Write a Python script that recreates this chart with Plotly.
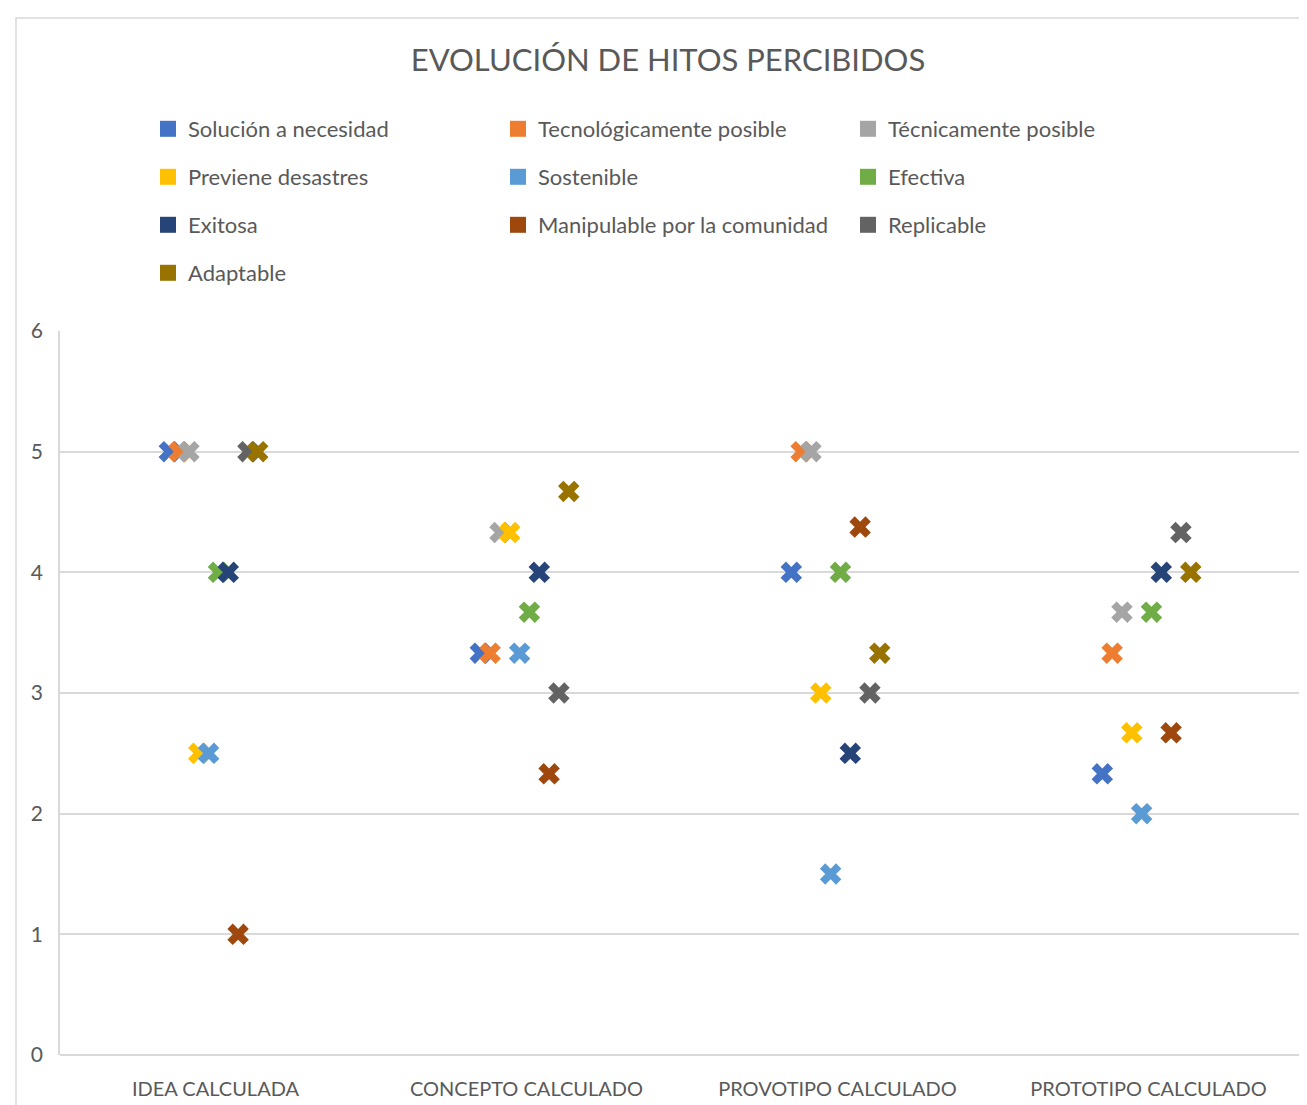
import plotly.graph_objects as go

categories = ["IDEA CALCULADA", "CONCEPTO CALCULADO", "PROVOTIPO CALCULADO", "PROTOTIPO CALCULADO"]

series_names = [
    "Solución a necesidad", "Tecnológicamente posible", "Técnicamente posible",
    "Previene desastres", "Sostenible", "Efectiva",
    "Exitosa", "Manipulable por la comunidad", "Replicable",
    "Adaptable",
]

solucion = [5, 3.33, 4, 2.33]
tecnologicamente = [5, 3.33, 5, 3.33]
tecnicamente = [5, 4.33, 5, 3.67]
previene = [2.5, 4.33, 3, 2.67]
sostenible = [2.5, 3.33, 1.5, 2]
efectiva = [4, 3.67, 4, 3.67]
exitosa = [4, 4, 2.5, 4]
manipulable = [1, 2.33, 4.375, 2.67]
replicable = [5, 3, 3, 4.33]
adaptable = [5, 4.67, 3.33, 4]

series_values = [solucion, tecnologicamente, tecnicamente, previene, sostenible,
                 efectiva, exitosa, manipulable, replicable, adaptable]

colors = ["#4472C4", "#ED7D31", "#A5A5A5", "#FFC000", "#5B9BD5",
          "#70AD47", "#264478", "#9E480E", "#636363", "#997300"]

FONT = "Lato, 'Open Sans', sans-serif"
TXT = "#595959"

OFF = 8  # page body margin
W, H = 1307, 1105
L = 60 - OFF
T = 331 - OFF
R = W - (1304 - OFF)
B = H - (1055 - OFF)
pw = W - L - R
ph = H - T - B

fig = go.Figure()

step = 0.0316
for i, (name, vals, col) in enumerate(zip(series_names, series_values, colors)):
    xs = [k + (i - 4.7) * step for k in range(len(categories))]
    fig.add_trace(go.Scatter(
        x=xs, y=vals, mode="markers", name=name, showlegend=False,
        marker=dict(symbol="x", size=19, color=col, line=dict(width=0)),
    ))

legend_ids = ["legend", "legend2", "legend3", "legend4"]
for i, (name, col) in enumerate(zip(series_names, colors)):
    fig.add_trace(go.Scatter(
        x=[None], y=[None], mode="markers", name=name,
        marker=dict(symbol="square", size=16, color=col),
        legend=legend_ids[i // 3], showlegend=True,
    ))

row_y = [129, 177, 225, 273]
legend_common = dict(
    orientation="h", xanchor="left", yanchor="middle",
    font=dict(family=FONT, size=22, color=TXT),
    entrywidth=305, bgcolor="rgba(0,0,0,0)", itemclick=False,
)
layout_legends = {}
for lid, yy in zip(legend_ids, row_y):
    layout_legends[lid] = dict(legend_common, x=(148 - 60) / pw, y=1 + (331 - yy) / ph)

fig.update_layout(
    width=W, height=H,
    margin=dict(l=L, r=R, t=T, b=B),
    paper_bgcolor="white", plot_bgcolor="white",
    title=dict(text="EVOLUCIÓN DE HITOS PERCIBIDOS", x=(668 - OFF) / W, xanchor="center",
               y=1 - (60 - OFF) / H, yanchor="middle", yref="container",
               font=dict(family=FONT, size=31, color=TXT)),
    xaxis=dict(range=[-0.5, 3.5], tickvals=list(range(len(categories))), ticktext=categories,
               showgrid=False, zeroline=False, showline=False, ticks="",
               tickfont=dict(family=FONT, size=20, color=TXT), ticklabelstandoff=20),
    yaxis=dict(range=[0, 6], dtick=1, showgrid=True, gridcolor="#D9D9D9", gridwidth=1.5,
               zeroline=True, zerolinecolor="#D9D9D9", zerolinewidth=1.5,
               showline=True, linecolor="#D9D9D9", linewidth=1.5, ticks="",
               tickfont=dict(family=FONT, size=21, color=TXT), ticklabelstandoff=11),
    shapes=[dict(type="rect", xref="paper", yref="paper",
                 x0=(16 - 60) / pw, x1=(1340 - 60) / pw,
                 y0=-(1140 - 1055) / ph, y1=1 + (331 - 18) / ph,
                 line=dict(color="#D9D9D9", width=1.5), fillcolor="rgba(0,0,0,0)", layer="below")],
    **layout_legends,
)

fig.write_html("out.html")
